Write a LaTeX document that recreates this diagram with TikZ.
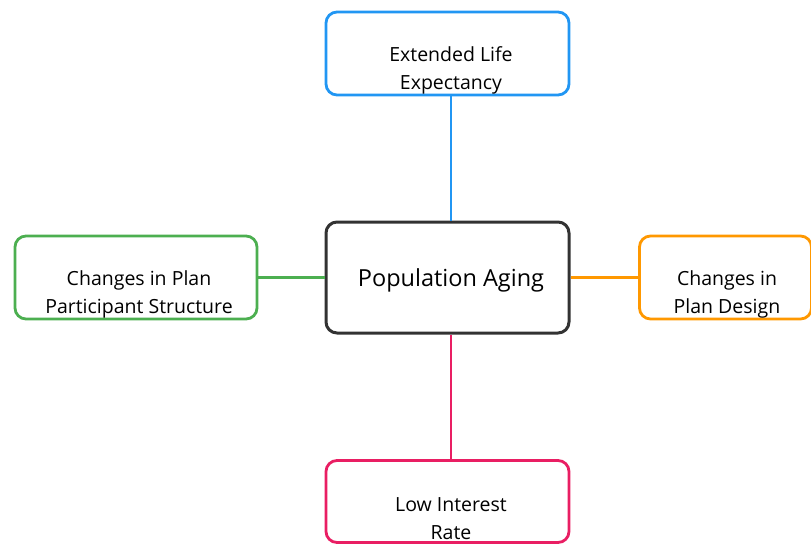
\documentclass[tikz,border=0pt]{standalone}
\usepackage{fontspec}
\setmainfont{Open Sans}
\definecolor{cblue}{HTML}{2196F3}
\definecolor{corange}{HTML}{FF9800}
\definecolor{cgreen}{HTML}{4CAF50}
\definecolor{cpink}{HTML}{E91E63}
\definecolor{cdark}{HTML}{333333}
\tikzset{
  box/.style={draw, line width=2.8pt, rounded corners=11pt, fill=white, inner sep=0pt},
  lbl/.style={align=center, font=\fontsize{19.5}{28}\selectfont, inner sep=0pt, text=black},
  conn/.style={line width=2.8pt}
}
\begin{document}
\begin{tikzpicture}[x=1pt,y=-1pt]
\useasboundingbox (0,0) rectangle (811,544);
% boxes
\node[box, draw=cdark, line width=3pt, minimum width=243pt, minimum height=111pt] (center) at (447.5,277.5) {};
\node[box, draw=cblue, minimum width=243pt, minimum height=83pt] (top) at (447.5,53.5) {};
\node[box, draw=cgreen, minimum width=242pt, minimum height=83pt] (left) at (136,277.5) {};
\node[box, draw=corange, minimum width=172pt, minimum height=83pt] (right) at (725.5,277.5) {};
\node[box, draw=cpink, minimum width=243pt, minimum height=82pt] (bottom) at (447.5,501.5) {};
% connectors
\draw[conn, cblue] (top.south -| 451,0) -- (center.north -| 451,0);
\draw[conn, cpink] (center.south -| 451,0) -- (bottom.north -| 451,0);
\draw[conn, cgreen] (left.east) -- (center.west);
\draw[conn, corange] (center.east) -- (right.west);
% labels
\node[lbl] (ttop) at (451,70) {Extended Life\\Expectancy};
\node[lbl] (tleft) at (139,294) {Changes in Plan\\Participant Structure};
\node[lbl] (tright) at (727,294) {Changes in\\Plan Design};
\node[lbl] (tbottom) at (451,519) {Low Interest\\Rate};
\node[lbl, font=\fontsize{23.5}{28}\selectfont] (tcenter) at (451,280) {Population Aging};
\end{tikzpicture}
\end{document}
